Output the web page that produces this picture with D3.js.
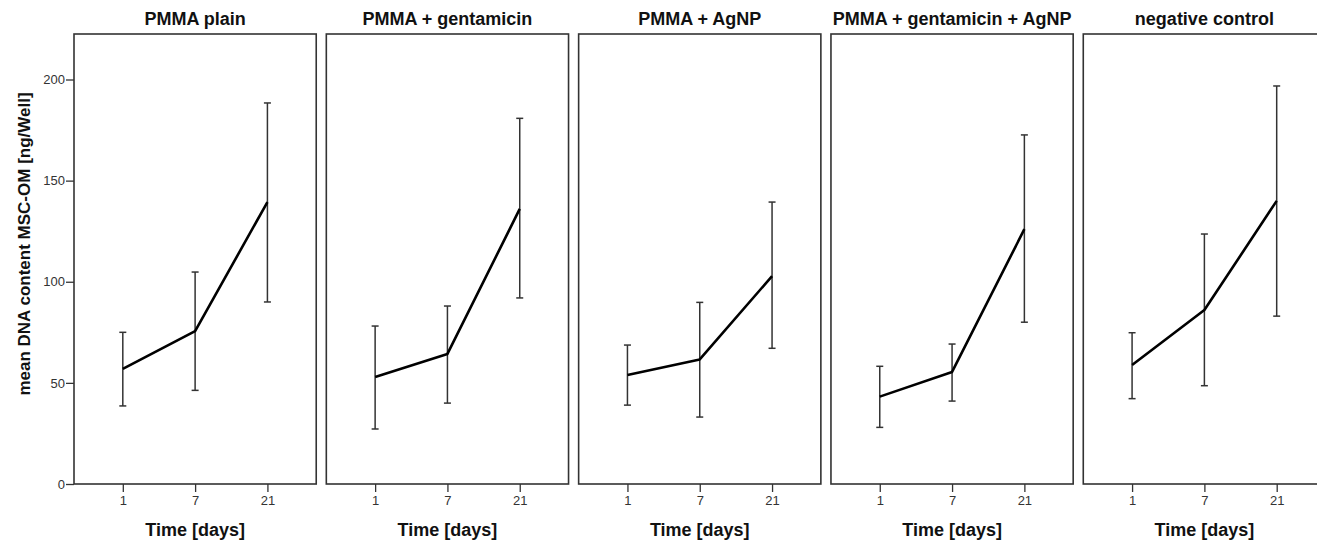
<!DOCTYPE html>
<html>
<head>
<meta charset="utf-8">
<script src="https://cdn.jsdelivr.net/npm/d3@7"></script>
<style>
  body { margin: 0; background: #fff; }
  svg { display: block; font-family: "Liberation Sans", Arial, sans-serif; }
</style>
</head>
<body>
<div id="chart"></div>
<script>
'use strict';

var groups = ["PMMA plain", "PMMA + gentamicin", "PMMA + AgNP", "PMMA + gentamicin + AgNP", "negative control"];
var days = ["1", "7", "21"];
var yTicks = [0, 50, 100, 150, 200];

// mean, lower and upper end of the error bar, per group (days 1, 7, 21)
var meanPlain = [56.9, 75.6, 139.4];
var lowPlain = [38.6, 46.3, 90];
var highPlain = [75.0, 104.8, 188.4];

var meanGent = [52.9, 64.3, 136];
var lowGent = [27.2, 40, 92];
var highGent = [78.1, 88, 180.8];

var meanAg = [53.9, 61.6, 102.8];
var lowAg = [39, 33.1, 67.1];
var highAg = [68.7, 89.8, 139.4];

var meanGentAg = [43.2, 55.4, 126];
var lowGentAg = [28, 41, 80];
var highGentAg = [58.2, 69.2, 172.6];

var meanNeg = [58.8, 86, 140];
var lowNeg = [42.2, 48.6, 83];
var highNeg = [74.8, 123.6, 196.8];

var means = [meanPlain, meanGent, meanAg, meanGentAg, meanNeg];
var lows = [lowPlain, lowGent, lowAg, lowGentAg, lowNeg];
var highs = [highPlain, highGent, highAg, highGentAg, highNeg];

var width = 1317, height = 543;
var margins = { top: 34, bottom: 59, left: 74 };
var plotH = height - margins.top - margins.bottom;

var svg = d3.select('#chart').append('svg')
  .attr('width', width)
  .attr('height', height);

var panel = d3.scaleBand()
  .domain(groups)
  .range([margins.left, 1325.5])
  .paddingInner(0.04)
  .paddingOuter(0);

var y = d3.scaleLinear()
  .domain([0, 222.5])
  .range([margins.top + plotH, margins.top]);

var x = d3.scalePoint()
  .domain(days)
  .range([0, panel.bandwidth()])
  .padding(0.675);

// y axis on first panel only
var yAxis = svg.append('g')
  .attr('transform', 'translate(' + margins.left + ',0)')
  .call(d3.axisLeft(y).tickValues(yTicks).tickSize(8).tickPadding(1));
yAxis.select('.domain').remove();
yAxis.selectAll('line').attr('stroke', '#333').attr('stroke-width', 1.3);
yAxis.selectAll('text').attr('fill', '#333').attr('font-size', 13);

svg.append('text')
  .attr('transform', 'translate(30,' + (margins.top + plotH / 2 - 15) + ') rotate(-90)')
  .attr('text-anchor', 'middle')
  .attr('font-size', 17)
  .attr('font-weight', 'bold')
  .attr('fill', '#111')
  .text('mean DNA content MSC-OM [ng/Well]');

var line = d3.line()
  .x(function(d) { return x(d.day); })
  .y(function(d) { return y(d.mean); });

groups.forEach(function(g, gi) {
  var pts = days.map(function(d, i) {
    return { day: d, mean: means[gi][i], low: lows[gi][i], high: highs[gi][i] };
  });

  var p = svg.append('g')
    .attr('transform', 'translate(' + panel(g) + ',0)');

  p.append('text')
    .attr('x', panel.bandwidth() / 2)
    .attr('y', 25)
    .attr('text-anchor', 'middle')
    .attr('font-size', 18)
    .attr('font-weight', 'bold')
    .attr('fill', '#111')
    .text(g);

  var xAxis = p.append('g')
    .attr('transform', 'translate(0,' + y(0) + ')')
    .call(d3.axisBottom(x).tickSize(8).tickPadding(4));
  xAxis.select('.domain').remove();
  xAxis.selectAll('line').attr('stroke', '#333').attr('stroke-width', 1.3);
  xAxis.selectAll('text').attr('fill', '#333').attr('font-size', 13);

  p.append('text')
    .attr('x', panel.bandwidth() / 2)
    .attr('y', 536)
    .attr('text-anchor', 'middle')
    .attr('font-size', 18)
    .attr('font-weight', 'bold')
    .attr('fill', '#111')
    .text('Time [days]');

  var bars = p.append('g')
    .attr('stroke', '#333')
    .attr('stroke-width', 1.5)
    .selectAll('g')
    .data(pts)
    .enter().append('g');

  bars.append('line')
    .attr('x1', function(d) { return x(d.day); })
    .attr('x2', function(d) { return x(d.day); })
    .attr('y1', function(d) { return y(d.low); })
    .attr('y2', function(d) { return y(d.high); });

  bars.selectAll('line.cap')
    .data(function(d) { return [[d.day, d.low], [d.day, d.high]]; })
    .enter().append('line')
    .attr('class', 'cap')
    .attr('x1', function(d) { return x(d[0]) - 3.5; })
    .attr('x2', function(d) { return x(d[0]) + 3.5; })
    .attr('y1', function(d) { return y(d[1]); })
    .attr('y2', function(d) { return y(d[1]); });

  p.append('path')
    .datum(pts)
    .attr('fill', 'none')
    .attr('stroke', '#000')
    .attr('stroke-width', 2.6)
    .attr('stroke-linejoin', 'round')
    .attr('d', line);

  p.append('rect')
    .attr('x', 0)
    .attr('y', margins.top)
    .attr('width', panel.bandwidth())
    .attr('height', plotH)
    .attr('fill', 'none')
    .attr('stroke', '#333')
    .attr('stroke-width', 1.6);
});
</script>
</body>
</html>
